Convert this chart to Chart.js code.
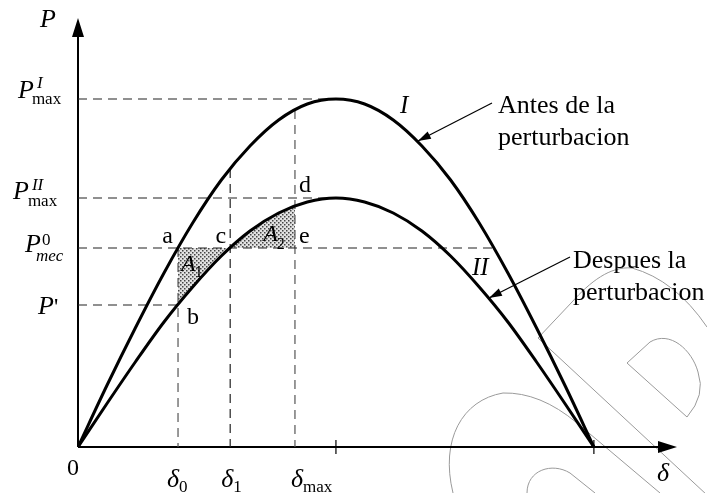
<!DOCTYPE html>
<html>
<head>
<meta charset="utf-8">
<title>Curva potencia-angulo</title>
<script src="https://cdn.jsdelivr.net/npm/chart.js@4.4.1/dist/chart.umd.min.js"></script>
<style>
  html, body { margin: 0; padding: 0; background: #fff; }
  #wrap { width: 707px; height: 493px; }
</style>
</head>
<body>
<div id="wrap"><canvas id="pa" width="707" height="493"></canvas></div>
<script>
// Power-angle curves, before (I) and after (II) the disturbance
const curveDeg = [0, 10, 20, 30, 40, 50, 60, 70, 80, 90, 100, 110, 120, 130, 140, 150, 160, 170, 180];
const powerBefore = [0, 0.61, 1.19, 1.74, 2.24, 2.67, 3.01, 3.27, 3.43, 3.48, 3.43, 3.27, 3.01, 2.67, 2.24, 1.74, 1.19, 0.61, 0];
const powerAfter = [0, 0.43, 0.85, 1.25, 1.60, 1.91, 2.16, 2.34, 2.45, 2.49, 2.45, 2.34, 2.16, 1.91, 1.60, 1.25, 0.85, 0.43, 0];

// power levels on the P axis
const pMaxBefore = 3.48;
const pMaxAfter = 2.49;
const pMec = 1.99;
const pPrime = 1.42;

// angles on the delta axis
const delta0 = 34.9;
const delta1 = 53.1;
const deltaMax = 75.7;
const deltaPeak = 90;
const deltaEnd = 180;
const deltaMecRight = 145.1;
// curve I height where the vertical guides start
const guideTop = [1.99, 2.78, 3.37];

// accelerating (A1) and decelerating (A2) areas, upper/lower edge on curve II
const areaA1Deg = [34.9, 40, 45, 50, 53.1];
const areaA1Power = [1.42, 1.60, 1.76, 1.91, 1.99];
const areaA2Deg = [53.1, 60, 65, 70, 75.7];
const areaA2Power = [1.99, 2.16, 2.26, 2.34, 2.41];

// where the callout arrows hit the curves
const calloutBefore = [118.6, 3.06];
const calloutAfter = [143.4, 1.49];

const serif = "'Liberation Serif', 'Times New Roman', serif";

function pts(xs, ys) { return xs.map((x, i) => ({ x: x, y: ys[i] })); }

function stipple() {
    const c = document.createElement('canvas');
    c.width = 4; c.height = 4;
    const g = c.getContext('2d');
    g.fillStyle = '#e2e2e2';
    g.fillRect(0, 0, 4, 4);
    g.fillStyle = '#444';
    g.fillRect(0, 0, 1.5, 1.5);
    g.fillRect(2, 2, 1.5, 1.5);
    return g.createPattern(c, 'repeat');
}

function guide(xs, ys, color) {
    return {
        data: pts(xs, ys), borderColor: color, borderWidth: 1.2, borderDash: [9, 6],
        pointRadius: 0, tension: 0, fill: false, order: 3
    };
}

function curve(ys) {
    return {
        data: pts(curveDeg, ys), borderColor: '#000', borderWidth: 3, pointRadius: 0,
        cubicInterpolationMode: 'monotone', fill: false, order: 0
    };
}

function area(xs, ys, pattern) {
    return {
        data: pts(xs, ys), borderWidth: 0, borderColor: 'rgba(0,0,0,0)', pointRadius: 0,
        tension: 0, backgroundColor: pattern, fill: { value: pMec }, order: 5
    };
}

function text(ctx, s, x, y, size, italic, align) {
    ctx.font = (italic ? 'italic ' : '') + size + 'px ' + serif;
    ctx.textAlign = align || 'left';
    ctx.textBaseline = 'alphabetic';
    ctx.fillText(s, x, y);
    return x + ctx.measureText(s).width;
}

function arrow(ctx, x1, y1, x2, y2) {
    const a = Math.atan2(y2 - y1, x2 - x1);
    ctx.beginPath();
    ctx.moveTo(x1, y1);
    ctx.lineTo(x2, y2);
    ctx.lineWidth = 1.2;
    ctx.stroke();
    ctx.beginPath();
    ctx.moveTo(x2, y2);
    ctx.lineTo(x2 - 13 * Math.cos(a) + 4 * Math.sin(a), y2 - 13 * Math.sin(a) - 4 * Math.cos(a));
    ctx.lineTo(x2 - 13 * Math.cos(a) - 4 * Math.sin(a), y2 - 13 * Math.sin(a) + 4 * Math.cos(a));
    ctx.closePath();
    ctx.fill();
}

// faint logo outline in the lower right corner
function drawLogo(ctx) {
    ctx.save();
    ctx.strokeStyle = '#9a9a9a';
    ctx.lineWidth = 1;
    ctx.beginPath();
    ctx.moveTo(453, 493);
    ctx.bezierCurveTo(440, 440, 462, 400, 503, 393);
    ctx.quadraticCurveTo(540, 392, 577, 423);
    ctx.lineTo(660, 493);
    ctx.moveTo(707, 495);
    ctx.lineTo(538, 338);
    ctx.lineTo(572, 302);
    ctx.bezierCurveTo(590, 282, 610, 266, 632, 268);
    ctx.quadraticCurveTo(675, 280, 707, 327);
    ctx.moveTo(627, 363);
    ctx.lineTo(650, 342);
    ctx.bezierCurveTo(670, 330, 692, 350, 698, 372);
    ctx.quadraticCurveTo(706, 395, 687, 417);
    ctx.closePath();
    ctx.moveTo(527, 493);
    ctx.bezierCurveTo(527, 470, 552, 462, 570, 473);
    ctx.lineTo(595, 493);
    ctx.stroke();
    ctx.restore();
}

const sketch = {
    id: 'sketch',
    beforeDatasetsDraw(chart) {
        const ctx = chart.ctx;
        const xs = chart.scales.x, ys = chart.scales.y;
        const x0 = xs.getPixelForValue(0), y0 = ys.getPixelForValue(0);
        const top = chart.chartArea.top, right = chart.chartArea.right;
        drawLogo(ctx);
        ctx.save();
        ctx.strokeStyle = '#000';
        ctx.fillStyle = '#000';
        ctx.lineWidth = 2;
        ctx.beginPath();
        ctx.moveTo(x0, y0);
        ctx.lineTo(x0, top + 18);
        ctx.moveTo(x0, y0);
        ctx.lineTo(right - 18, y0);
        ctx.stroke();
        ctx.beginPath();
        ctx.moveTo(x0, top);
        ctx.lineTo(x0 - 6, top + 19);
        ctx.lineTo(x0 + 6, top + 19);
        ctx.closePath();
        ctx.moveTo(right, y0);
        ctx.lineTo(right - 19, y0 - 6);
        ctx.lineTo(right - 19, y0 + 6);
        ctx.closePath();
        ctx.fill();
        ctx.lineWidth = 1.2;
        [deltaPeak, deltaEnd].forEach(d => {
            const px = xs.getPixelForValue(d);
            ctx.beginPath();
            ctx.moveTo(px, y0 - 7);
            ctx.lineTo(px, y0 + 7);
            ctx.stroke();
        });
        ctx.restore();
    },
    afterDraw(chart) {
        const ctx = chart.ctx;
        const X = v => chart.scales.x.getPixelForValue(v);
        const Y = v => chart.scales.y.getPixelForValue(v);
        ctx.save();
        ctx.fillStyle = '#000';
        ctx.strokeStyle = '#000';

        // axis names
        text(ctx, 'P', 40, 27, 26, true);
        text(ctx, 'δ', 657, 481, 26, true);
        text(ctx, '0', 67, 475, 24, false);

        // P axis labels
        let e = text(ctx, 'P', 18, Y(pMaxBefore) - 1, 26, true);
        text(ctx, 'I', e + 3, Y(pMaxBefore) - 11, 17, true);
        text(ctx, 'max', e - 2, Y(pMaxBefore) + 5, 17, false);
        e = text(ctx, 'P', 13, Y(pMaxAfter) + 1, 26, true);
        text(ctx, 'II', e + 3, Y(pMaxAfter) - 8, 17, true);
        text(ctx, 'max', e - 1, Y(pMaxAfter) + 8, 17, false);
        e = text(ctx, 'P', 25, Y(pMec) + 4, 26, true);
        text(ctx, '0', e + 1, Y(pMec) - 3, 17, false);
        text(ctx, 'mec', e - 5, Y(pMec) + 13, 17, true);
        e = text(ctx, 'P', 38, Y(pPrime) + 9, 26, true);
        text(ctx, "'", e, Y(pPrime) + 9, 24, false);

        // delta axis labels
        e = text(ctx, 'δ', X(delta0) - 11, 487, 26, true);
        text(ctx, '0', e, 492, 17, false);
        e = text(ctx, 'δ', X(delta1) - 9, 487, 26, true);
        text(ctx, '1', e, 492, 17, false);
        e = text(ctx, 'δ', X(deltaMax) - 4, 487, 26, true);
        text(ctx, 'max', e, 492, 17, false);

        // points a..e
        text(ctx, 'a', X(delta0) - 5, Y(pMec) - 5, 24, false, 'right');
        text(ctx, 'b', X(delta0) + 9, Y(pPrime) + 19, 24, false);
        text(ctx, 'c', X(delta1) - 4, Y(pMec) - 5, 24, false, 'right');
        text(ctx, 'd', X(deltaMax) + 4, Y(pMaxAfter) - 6, 24, false);
        text(ctx, 'e', X(deltaMax) + 4, Y(pMec) - 5, 24, false);

        // area names
        e = text(ctx, 'A', X(delta0) + 3, Y(pMec) + 23, 24, true);
        text(ctx, '1', e - 1, Y(pMec) + 29, 16, false);
        e = text(ctx, 'A', X(delta1) + 33, Y(pMec) - 7, 24, true);
        text(ctx, '2', e - 1, Y(pMec) + 1, 16, false);

        // curve names
        text(ctx, 'I', 400, 113, 25, true);
        text(ctx, 'II', 472, 275, 25, true);

        // callouts
        arrow(ctx, 492, 103, X(calloutBefore[0]), Y(calloutBefore[1]));
        arrow(ctx, 570, 257, X(calloutAfter[0]), Y(calloutAfter[1]));
        text(ctx, 'Antes de la', 498, 113, 26, false);
        text(ctx, 'perturbacion', 498, 145, 26, false);
        text(ctx, 'Despues la', 573, 268, 26, false);
        text(ctx, 'perturbacion', 573, 300, 26, false);
        ctx.restore();
    }
};

const dots = stipple();
const hDash = '#222';
const vDash = '#555';

new Chart(document.getElementById('pa'), {
    type: 'line',
    data: {
        datasets: [
            curve(powerBefore),
            curve(powerAfter),
            guide([0, deltaPeak], [pMaxBefore, pMaxBefore], hDash),
            guide([0, deltaPeak], [pMaxAfter, pMaxAfter], hDash),
            guide([0, deltaMecRight], [pMec, pMec], hDash),
            guide([0, delta0], [pPrime, pPrime], hDash),
            guide([delta0, delta0], [guideTop[0], 0], vDash),
            guide([delta1, delta1], [guideTop[1], 0], hDash),
            guide([deltaMax, deltaMax], [guideTop[2], 0], vDash),
            area(areaA1Deg, areaA1Power, dots),
            area(areaA2Deg, areaA2Power, dots)
        ]
    },
    options: {
        responsive: false,
        animation: false,
        layout: { padding: { left: 78, right: 30, top: 18, bottom: 46 } },
        scales: {
            x: { type: 'linear', min: 0, max: 209, display: false },
            y: { type: 'linear', min: 0, max: 4.29, display: false }
        },
        plugins: { legend: { display: false }, tooltip: { enabled: false } }
    },
    plugins: [sketch]
});
</script>
</body>
</html>
